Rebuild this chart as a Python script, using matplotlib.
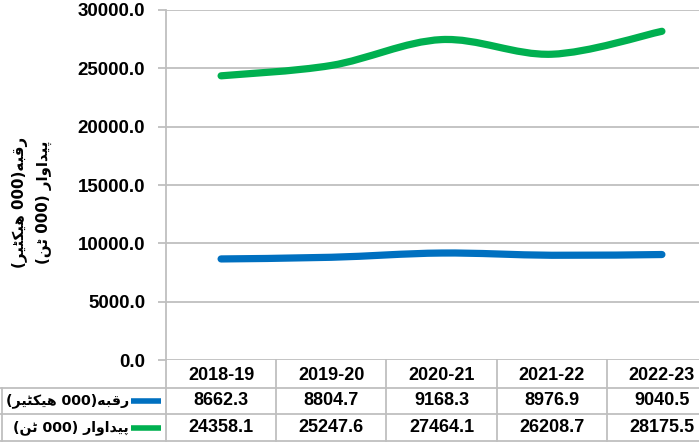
import re

import matplotlib
matplotlib.use("Agg")
import matplotlib.pyplot as plt
from matplotlib.lines import Line2D
from matplotlib.patches import PathPatch
from matplotlib.path import Path
from matplotlib.ticker import FuncFormatter
from matplotlib.transforms import blended_transform_factory

years = ["2018-19", "2019-20", "2020-21", "2021-22", "2022-23"]
area = [8662.3, 8804.7, 9168.3, 8976.9, 9040.5]
production = [24358.1, 25247.6, 27464.1, 26208.7, 28175.5]
area_label = "رقبہ(000 ہیکٹیر)"
production_label = "پیداوار (000 ٹن)"

BLUE = "#0070C0"
GREEN = "#00B050"
GRID = "#bfbfbf"

# Arabic presentation forms: (isolated, final[, initial, medial])
# DejaVu has no heh-goal joined forms, so those use the heh glyphs.
_FORMS = {
    "ر": (0xFEAD, 0xFEAE), "د": (0xFEA9, 0xFEAA),
    "ا": (0xFE8D, 0xFE8E), "و": (0xFEED, 0xFEEE),
    "ق": (0xFED5, 0xFED6, 0xFED7, 0xFED8),
    "ب": (0xFE8F, 0xFE90, 0xFE91, 0xFE92),
    "ہ": (0x06C1, 0xFEEA, 0xFEEB, 0xFEEC),
    "ی": (0xFBFC, 0xFBFD, 0xFBFE, 0xFBFF),
    "ک": (0xFB8E, 0xFB8F, 0xFB90, 0xFB91),
    "ٹ": (0xFB66, 0xFB67, 0xFB68, 0xFB69),
    "پ": (0xFB56, 0xFB57, 0xFB58, 0xFB59),
    "ن": (0xFEE5, 0xFEE6, 0xFEE7, 0xFEE8),
}
_MIRROR = {"(": ")", ")": "("}


def _shape_word(w):
    out = []
    for i, ch in enumerate(w):
        f = _FORMS.get(ch)
        if f is None:
            out.append(ch)
            continue
        prev = _FORMS.get(w[i - 1]) if i > 0 else None
        nxt = _FORMS.get(w[i + 1]) if i + 1 < len(w) else None
        jp = prev is not None and len(prev) == 4
        jn = nxt is not None and len(f) == 4
        idx = 3 if (jp and jn) else 1 if jp else 2 if jn else 0
        out.append(chr(f[idx]))
    return "".join(reversed(out))


def urdu(text):
    # matplotlib does no shaping or bidi: join letters, lay the line out right-to-left
    tokens = re.findall(r"[\u0600-\u06FF]+|[0-9.]+|.", text)
    out = []
    for tok in reversed(tokens):
        if re.match(r"[\u0600-\u06FF]", tok):
            out.append(_shape_word(tok))
        else:
            out.append(_MIRROR.get(tok, tok))
    return "".join(out)


def smooth_path(xs, ys):
    # Excel-style smoothed line as cubic Bezier segments
    pts = list(zip(xs, ys))
    verts = [pts[0]]
    codes = [Path.MOVETO]
    n = len(pts)
    for i in range(n - 1):
        p0 = pts[i - 1] if i > 0 else pts[i]
        p1, p2 = pts[i], pts[i + 1]
        p3 = pts[i + 2] if i + 2 < n else pts[i + 1]
        c1 = (p1[0] + (p2[0] - p0[0]) / 6, p1[1] + (p2[1] - p0[1]) / 6)
        c2 = (p2[0] - (p3[0] - p1[0]) / 6, p2[1] - (p3[1] - p1[1]) / 6)
        verts += [c1, c2, p2]
        codes += [Path.CURVE4] * 3
    return Path(verts, codes)


plt.rcParams["font.family"] = ["Liberation Sans", "DejaVu Sans"]
plt.rcParams["font.weight"] = "bold"

fig = plt.figure(figsize=(6.99, 4.44), dpi=100)
ax = fig.add_axes([166 / 699, 84 / 444, 551 / 699, 350 / 444])

x = list(range(len(years)))
for vals, color in [(area, BLUE), (production, GREEN)]:
    ax.add_patch(PathPatch(smooth_path(x, vals), facecolor="none", edgecolor=color,
                           lw=5.2, capstyle="round", joinstyle="round", zorder=3))

ax.set_xlim(-0.5, len(years) - 0.5)
ax.set_ylim(0, 30000)
ax.set_yticks(range(0, 30001, 5000))
ax.yaxis.set_major_formatter(FuncFormatter(lambda v, _: f"{v:.1f}"))
ax.set_xticks([])
ax.grid(axis="y", color=GRID, lw=1.3)
ax.set_axisbelow(True)
for s in ["top", "right", "bottom"]:
    ax.spines[s].set_visible(False)
ax.spines["left"].set_color(GRID)
ax.spines["left"].set_linewidth(1.3)
ax.tick_params(axis="y", direction="out", length=6, color=GRID, width=1.3,
               labelsize=13.5, pad=9)
for lbl in ax.get_yticklabels():
    lbl.set_fontweight("bold")

# data table under the plot
tr = blended_transform_factory(ax.transData, ax.transAxes)
row_y = [-0.043, -0.117, -0.194]
line_y = [-0.08, -0.154, -0.231]
for xi, yr, a, p in zip(x, years, area, production):
    ax.text(xi, row_y[0], yr, transform=tr, ha="center", va="center",
            fontsize=13, fontweight="bold")
    ax.text(xi, row_y[1], f"{a:.1f}", transform=tr, ha="center", va="center",
            fontsize=13, fontweight="bold")
    ax.text(xi, row_y[2], f"{p:.1f}", transform=tr, ha="center", va="center",
            fontsize=13, fontweight="bold")

for yy in line_y:
    ax.add_line(Line2D([-0.302, 1.0], [yy, yy], transform=ax.transAxes,
                       color=GRID, lw=1.3, clip_on=False))
for xb in [xi - 0.5 for xi in x]:
    ax.add_line(Line2D([xb, xb], [0, line_y[-1]], transform=tr,
                       color=GRID, lw=1.3, clip_on=False))
ax.add_line(Line2D([-0.298, -0.298], [line_y[0], line_y[-1]], transform=ax.transAxes,
                   color=GRID, lw=1.3, clip_on=False))

for yy, label, color in [(row_y[1], area_label, BLUE), (row_y[2], production_label, GREEN)]:
    ax.text(-0.067, yy, urdu(label), transform=ax.transAxes, ha="right", va="center",
            fontsize=10.2, fontweight="bold", family=["DejaVu Sans"])
    ax.add_line(Line2D([-0.064, -0.009], [yy, yy], transform=ax.transAxes,
                       color=color, lw=4, solid_capstyle="butt", clip_on=False))

fig.text(32 / 699, (444 - 202) / 444, urdu(area_label) + "\n" + urdu(production_label),
         rotation=90, ha="center", va="center", fontsize=10.8, fontweight="bold",
         family=["DejaVu Sans"], linespacing=1.6)

fig.savefig("out.png", dpi=100)
